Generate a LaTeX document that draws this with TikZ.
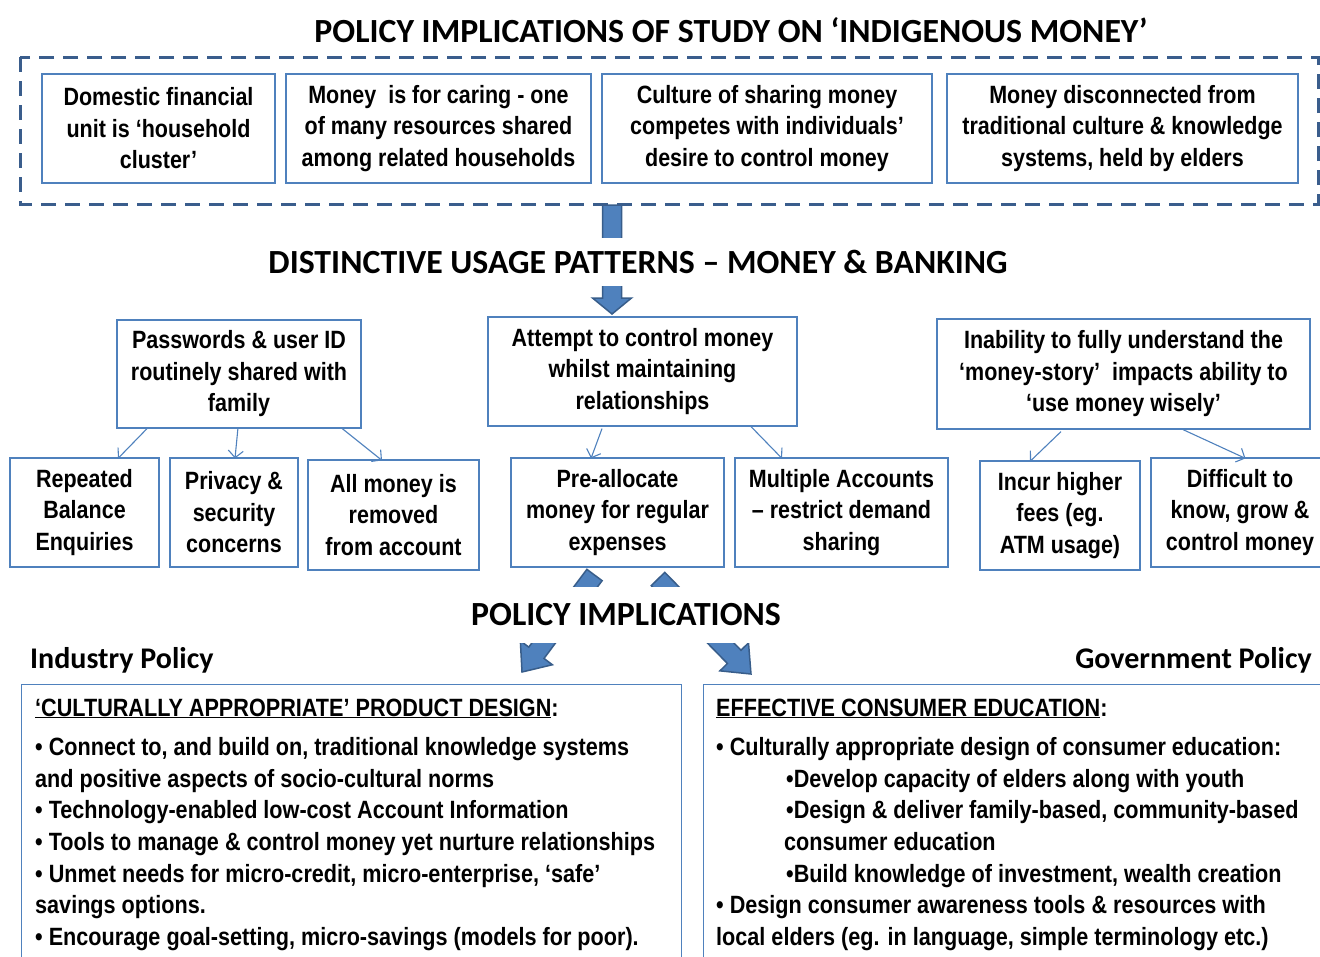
\documentclass[tikz,border=0pt]{standalone}
\usepackage{fontspec}
\setmainfont{Liberation Sans}[FakeStretch=0.86]
\newfontfamily\narrowfont{Liberation Sans}[FakeStretch=0.865]
\newfontfamily\calfont{Carlito}
\usetikzlibrary{calc,arrows.meta}
\definecolor{boxblue}{HTML}{4F81BD}
\definecolor{arrowdark}{HTML}{385D8A}
\definecolor{dashblue}{HTML}{3A5D8C}
\newcommand\blockarr[5]{%
  \coordinate (bah) at ($(#2)!#5!(#1)$);
  \draw[blk] ($(#1)!#3!90:(#2)$) -- ($(bah)!#3!90:(#2)$) -- ($(bah)!#4!90:(#2)$) -- (#2)
    -- ($(bah)!#4!-90:(#2)$) -- ($(bah)!#3!-90:(#2)$) -- ($(#1)!#3!-90:(#2)$) -- cycle;}
\tikzset{
  bx/.style={draw=boxblue, line width=1.2pt, align=center, inner sep=0pt,
    font=\bfseries\fontsize{25}{31.5}\selectfont},
  conn/.style={draw=boxblue, line width=1.1pt, -{Straight Barb[length=7pt,width=15pt]}},
  blk/.style={fill=boxblue, draw=arrowdark, line width=1.5pt},
  hd/.style={font=\calfont\bfseries\fontsize{33.8}{37}\selectfont, inner sep=0pt},
  subhd/.style={font=\calfont\bfseries\fontsize{30}{34}\selectfont, inner sep=0pt},
  bt/.style={font=\narrowfont\bfseries\fontsize{25}{31.7}\selectfont, inner sep=0pt},
  bigbox/.style={draw=boxblue, line width=1.2pt, anchor=north west, inner sep=0pt},
}
\begin{document}
\begin{tikzpicture}[x=1pt,y=-1pt]
\useasboundingbox (0,0) rectangle (1320,956);
\clip (0,0) rectangle (1320,956);
% block arrows
\coordinate (a1s) at (612,205); \coordinate (a1e) at (612,314);
\coordinate (a2s) at (594.5,575); \coordinate (a2e) at (522,672);
\coordinate (a3s) at (658,579); \coordinate (a3e) at (751,674);
\blockarr{a1s}{a1e}{9.5pt}{19.5pt}{16pt}
\blockarr{a2s}{a2e}{9.5pt}{20pt}{24pt}
\blockarr{a3s}{a3e}{9.5pt}{20pt}{24pt}
% title
\node[hd] (t1) at (731,30) {POLICY IMPLICATIONS OF STUDY ON ‘INDIGENOUS MONEY’};
\draw[dashblue, line width=3pt, dash pattern=on 15pt off 9pt] (20,57) rectangle (1318,204);
% top boxes
\node[bx, minimum width=233, minimum height=109] (b1) at (158.5,128.5) {Domestic financial\\unit is ‘household\\cluster’};
\node[bx, minimum width=305, minimum height=109] (b2) at (438.5,128.5) {Money\ \ is for caring - one\\of many resources shared\\among related households};
\node[bx, minimum width=330, minimum height=109] (b3) at (767,128.5) {Culture of sharing money\\competes with individuals’\\desire to control money};
\node[bx, minimum width=351, minimum height=109] (b4) at (1122.5,128.5) {Money disconnected from\\traditional culture \& knowledge\\systems, held by elders};
% heading 2
\node[hd, fill=white, minimum height=48] (t2) at (638,262) {DISTINCTIVE USAGE PATTERNS – MONEY \& BANKING};
% middle boxes
\node[bx, minimum width=244, minimum height=108] (p1) at (239,374) {Passwords \& user ID\\routinely shared with\\family};
\node[bx, minimum width=309, minimum height=109] (p2) at (642.5,371.5) {Attempt to control money\\whilst maintaining\\relationships};
\node[bx, minimum width=373, minimum height=110] (p3) at (1123.5,374) {Inability to fully understand the\\‘money-story’\ \ impacts ability to\\‘use money wisely’};
% bottom boxes
\node[bx, minimum width=149, minimum height=109] (c1) at (84.5,512.5) {Repeated\\Balance\\Enquiries};
\node[bx, minimum width=128, minimum height=109] (c2) at (234,512.5) {Privacy \&\\security\\concerns};
\node[bx, minimum width=171, minimum height=110] (c3) at (393.5,515) {All money is\\removed\\from account};
\node[bx, minimum width=213, minimum height=109] (c4) at (617.5,512.5) {Pre-allocate\\money for regular\\expenses};
\node[bx, minimum width=213, minimum height=109] (c5) at (841.5,512.5) {Multiple Accounts\\– restrict demand\\sharing};
\node[bx, minimum width=160, minimum height=109] (c6) at (1060,515.5) {Incur higher\\fees (eg.\\ATM usage)};
\node[bx, minimum width=178, minimum height=109] (c7) at (1240,512.5) {Difficult to\\know, grow \&\\control money};
% connectors
\draw[conn] ([xshift=-91,yshift=1]p1.south) -- ([xshift=33.5,yshift=-1]c1.north);
\draw[conn] ([xshift=-1,yshift=1]p1.south) -- ([xshift=1,yshift=-1]c2.north);
\draw[conn] ([xshift=102,yshift=1]p1.south) -- ([xshift=-11.5,yshift=-1]c3.north);
\draw[conn] ([xshift=-40.5,yshift=-2]p2.south) -- ([xshift=-26.5,yshift=-1]c4.north);
\draw[conn] ([xshift=108.5]p2.south) -- ([xshift=-59.5,yshift=-1]c5.north);
\draw[conn] ([xshift=-62.5,yshift=-2]p3.south) -- ([xshift=-30,yshift=-1]c6.north);
\draw[conn] ([xshift=59.5]p3.south) -- ([xshift=5.5,yshift=-1]c7.north);
% heading 3
\node[hd, fill=white, minimum height=56, minimum width=320] (t3) at (626,615) {POLICY IMPLICATIONS};
\node[subhd, anchor=west] (ip) at (30,660) {Industry Policy};
\node[subhd, anchor=east] (gp) at (1312,660) {Government Policy};
% policy boxes
\node[bigbox, minimum width=660, minimum height=290] (ind) at (21,684) {};
\node[bigbox, minimum width=640, minimum height=290] (gov) at (703,684) {};
\node[bt, anchor=base west] (ih) at (35,716) {\underline{‘CULTURALLY APPROPRIATE’ PRODUCT DESIGN}:};
\node[bt, anchor=base west] (gh) at (716,716) {\underline{EFFECTIVE CONSUMER EDUCATION}:};
\foreach \i/\y/\t in {1/746/{• Connect to, and build on, traditional knowledge systems},
  2/778/{and positive aspects of socio-cultural norms},
  3/809/{• Technology-enabled low-cost Account Information},
  4/841/{• Tools to manage \& control money yet nurture relationships},
  5/873/{• Unmet needs for micro-credit, micro-enterprise, ‘safe’},
  6/904/{savings options.},
  7/936/{• Encourage goal-setting, micro-savings (models for poor).}}
  \node[bt, anchor=base west] (il\i) at (35,\y+9) {\t};
\foreach \i/\x/\y/\t in {1/716/746/{• Culturally appropriate design of consumer education:},
  2/786/778/{•Develop capacity of elders along with youth},
  3/786/809/{•Design \& deliver family-based, community-based},
  4/784/841/{consumer education},
  5/786/873/{•Build knowledge of investment, wealth creation},
  6/716/904/{• Design consumer awareness tools \& resources with},
  7/716/936/{local elders (eg. in language, simple terminology etc.)}}
  \node[bt, anchor=base west] (gl\i) at (\x,\y+9) {\t};
\end{tikzpicture}
\end{document}
